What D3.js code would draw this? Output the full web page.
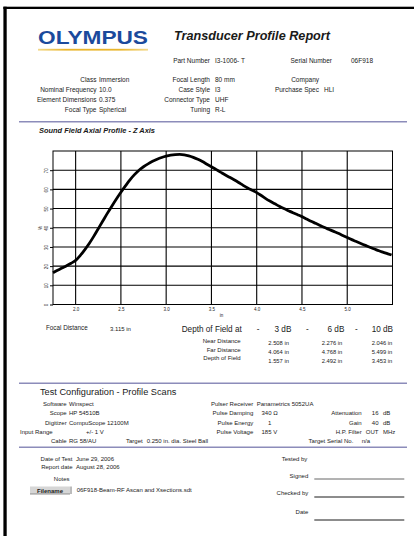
<!DOCTYPE html>
<html>
<head>
<meta charset="utf-8">
<script src="https://cdn.jsdelivr.net/npm/d3@7"></script>
<style>
  html, body { margin: 0; padding: 0; background: #fff; }
  svg { display: block; }
  text { font-family: "Liberation Sans", Arial, sans-serif; fill: #1a1a1a; }
</style>
</head>
<body>
<script>
// ---- Sound field axial profile (Z axis) ----
const profileDepth = [1.75, 1.80, 1.85, 1.90, 1.95, 2.00, 2.05, 2.10, 2.15, 2.20, 2.25, 2.30, 2.35, 2.40, 2.45,
  2.50, 2.55, 2.60, 2.65, 2.70, 2.75, 2.80, 2.85, 2.90, 2.95, 3.00, 3.05, 3.10, 3.15, 3.20, 3.25, 3.30, 3.35,
  3.40, 3.45, 3.50, 3.55, 3.60, 3.65, 3.70, 3.75, 3.80, 3.85, 3.90, 3.95, 4.00, 4.05, 4.10, 4.15, 4.20, 4.25,
  4.30, 4.35, 4.40, 4.45, 4.50, 4.55, 4.60, 4.65, 4.70, 4.75, 4.80, 4.85, 4.90, 4.95, 5.00, 5.05, 5.10, 5.15,
  5.20, 5.25, 5.30, 5.35, 5.40, 5.45, 5.49];
const profileAmplitude = [16.5, 17.8, 19.0, 20.2, 21.5, 23.0, 25.5, 28.5, 31.8, 35.5, 39.5, 43.5, 47.5, 51.3, 55.0,
  58.5, 61.8, 65.0, 67.7, 70.0, 71.8, 73.3, 74.6, 75.7, 76.6, 77.3, 77.8, 78.1, 78.2, 78.0, 77.5, 76.7, 75.7,
  74.5, 73.1, 71.8, 70.4, 69.0, 67.6, 66.3, 65.0, 63.6, 62.1, 60.7, 59.5, 58.3, 56.8, 55.2, 53.8, 52.5, 51.2,
  50.0, 48.9, 47.8, 46.8, 45.8, 44.6, 43.4, 42.3, 41.2, 40.1, 39.1, 38.1, 37.1, 36.0, 34.9, 33.8, 32.8, 31.8,
  30.8, 29.8, 28.9, 28.0, 27.2, 26.4, 25.8];
const xTicks = [2.0, 2.5, 3.0, 3.5, 4.0, 4.5, 5.0];
const yTicks = [0, 10, 20, 30, 40, 50, 60, 70];

// ---- Report header fields ----
const headerLeft = [["Class", "Immersion"], ["Nominal Frequency", "10.0"], ["Element Dimensions", "0.375"], ["Focal Type", "Spherical"]];
const headerMid = [["Focal Length", "80 mm"], ["Case Style", "I3"], ["Connector Type", "UHF"], ["Tuning", "R-L"]];
const headerRight = [["Company", ""], ["Purchase Spec", "HLI"]];

// ---- Depth of field results ----
const dbLevels = ["3", "6", "10"];
const dofRows = ["Near Distance", "Far Distance", "Depth of Field"];
const dofValues = [
  ["2.508 in", "2.276 in", "2.046 in"],
  ["4.064 in", "4.768 in", "5.499 in"],
  ["1.557 in", "2.492 in", "3.453 in"]
];

// ---- Test configuration ----
const configLeft = [["Software", "Winspect"], ["Scope", "HP 54510B"], ["Digitizer", "CompuScope 12100M"], ["", ""], ["Cable", "RG  58/AU"]];
const configMid = [["Pulser Receiver", "Panametrics 5052UA"], ["Pulse Damping", "340 Ω"], ["Pulse Energy", "1"], ["Pulse Voltage", "185  V"]];
const configRight = [["Attenuation", "16", "dB"], ["Gain", "40", "dB"], ["H.P. Filter", "OUT", "MHz"]];

const W = 414, H = 536;
const svg = d3.select("body").append("svg").attr("width", W).attr("height", H);

// page frame edges
svg.append("rect").attr("x", 3.4).attr("y", 6.7).attr("width", 3.3).attr("height", H).attr("fill", "#000");
svg.append("rect").attr("x", 3.4).attr("y", 6.7).attr("width", W).attr("height", 2.3).attr("fill", "#000");

function txt(x, y, s, size, anchor, extra) {
  const t = svg.append("text").attr("x", x).attr("y", y).attr("font-size", size)
    .attr("text-anchor", anchor || "start").text(s);
  if (extra) extra(t);
  return t;
}

// logo
const gold = svg.append("defs").append("linearGradient").attr("id", "gold");
gold.append("stop").attr("offset", "0%").attr("stop-color", "#f3d98a");
gold.append("stop").attr("offset", "25%").attr("stop-color", "#e9b52c");
gold.append("stop").attr("offset", "75%").attr("stop-color", "#e9b52c");
gold.append("stop").attr("offset", "100%").attr("stop-color", "#f3d98a");
txt(38, 44.3, "OLYMPUS", 17.5, "start", t => t.attr("font-weight", 900).style("fill", "#1b4a9c")
  .attr("textLength", 110).attr("lengthAdjust", "spacingAndGlyphs"));
svg.append("rect").attr("x", 38).attr("y", 48.8).attr("width", 110).attr("height", 1.8).attr("fill", "url(#gold)");

// title
txt(174, 39.5, "Transducer Profile Report", 13.5, "start", t => t.attr("font-weight", "bold")
  .attr("font-style", "italic").attr("textLength", 156).attr("lengthAdjust", "spacingAndGlyphs"));

// header rows
const fs = 6.5;
txt(210, 63.3, "Part Number", fs, "end");
txt(215, 63.3, "I3-1006- T", fs);
txt(332, 63.3, "Serial Number", fs, "end");
txt(351, 63.3, "06F918", fs);
const rowY = [82.3, 92.3, 101.8, 111.7];
headerLeft.forEach((d, i) => { txt(96.5, rowY[i], d[0], fs, "end"); txt(99, rowY[i], d[1], fs); });
headerMid.forEach((d, i) => { txt(210, rowY[i], d[0], fs, "end"); txt(215, rowY[i], d[1], fs); });
headerRight.forEach((d, i) => { txt(319, rowY[i], d[0], fs, "end"); txt(324, rowY[i], d[1], fs); });

// section rules
[121.7, 383.3, 447.3].forEach(y => svg.append("line").attr("x1", 19).attr("x2", 407)
  .attr("y1", y).attr("y2", y).attr("stroke", "#8c8cba").attr("stroke-width", 1.6));

txt(39, 133.3, "Sound Field Axial Profile - Z Axis", 7, "start", t => t.attr("font-weight", "bold")
  .attr("font-style", "italic").attr("textLength", 116).attr("lengthAdjust", "spacingAndGlyphs"));

// ---- chart ----
const x = d3.scaleLinear().domain([1.75, 5.5]).range([53, 392.5]);
const y = d3.scaleLinear().domain([0, 80]).range([304.5, 151]);

const g = svg.append("g");
g.selectAll(".vg").data(xTicks).join("line")
  .attr("x1", d => x(d)).attr("x2", d => x(d)).attr("y1", y(80)).attr("y2", y(0))
  .attr("stroke", "#000").attr("stroke-width", 1.1);
g.selectAll(".hg").data(yTicks.filter(v => v > 0)).join("line")
  .attr("x1", x(1.75)).attr("x2", x(5.5)).attr("y1", d => y(d)).attr("y2", d => y(d))
  .attr("stroke", "#000").attr("stroke-width", 1.1);

const yAxis = svg.append("g").attr("transform", `translate(${x(1.75)},0)`)
  .call(d3.axisLeft(y).tickValues(yTicks).tickSize(3).tickFormat(d3.format("d")));
yAxis.select(".domain").remove();
yAxis.selectAll("line").attr("stroke", "#000");
// tick labels stand on end, just left of the tick marks
yAxis.selectAll(".tick text").attr("font-size", 4.5).attr("font-family", null)
  .attr("x", 0).attr("dy", 0).attr("text-anchor", "middle")
  .attr("transform", "translate(-5.2,0) rotate(-90)");

const xAxis = svg.append("g").attr("transform", `translate(0,${y(0)})`)
  .call(d3.axisBottom(x).tickValues(xTicks).tickSize(0).tickPadding(3.5).tickFormat(d3.format(".1f")));
xAxis.select(".domain").remove();
xAxis.selectAll("text").attr("font-size", 4.5).attr("font-family", null);

txt(221.5, 317, "in", 4.5, "middle");
txt(41.5, 228, "%", 4.5, "middle", t => t.attr("transform", "rotate(-90,41.5,228)"));

// frame
svg.append("rect").attr("x", x(1.75)).attr("y", y(80)).attr("width", x(5.5) - x(1.75))
  .attr("height", y(0) - y(80)).attr("fill", "none").attr("stroke", "#000").attr("stroke-width", 1);

// profile curve
const pts = profileDepth.map((d, i) => [d, profileAmplitude[i]]);
svg.append("path").datum(pts)
  .attr("d", d3.line().x(d => x(d[0])).y(d => y(d[1])).curve(d3.curveMonotoneX))
  .attr("fill", "none").attr("stroke", "#000").attr("stroke-width", 2.8).attr("stroke-linejoin", "round");

// ---- depth of field table ----
txt(46, 330.3, "Focal Distance", 6.3);
txt(110, 331, "3.115 in", 6);
txt(181.7, 331.8, "Depth of Field at", 8.2);
const dashX = [256.7, 306, 355], dbX = [270, 323, 371.7];
dbLevels.forEach((v, i) => {
  txt(dashX[i], 331.8, "-", 8.2);
  txt(dbX[i] + (v.length > 1 ? 0 : 4.5), 331.8, v + "  dB", 8.2);
});
const dofLabelY = [343.3, 351.8, 360.4], dofValY = [345.4, 354.0, 362.8];
const colX = [268.3, 321.7, 371.7];
dofRows.forEach((r, i) => {
  txt(240.7, dofLabelY[i], r, 6, "end");
  dofValues[i].forEach((v, j) => txt(colX[j], dofValY[i], v, 5.8));
});

// ---- test configuration ----
txt(40, 394.5, "Test Configuration - Profile Scans", 9.2);
const cfgY = [406, 415.3, 424.6, 433.9, 443.2];
configLeft.forEach((d, i) => {
  if (d[0]) { txt(66.7, cfgY[i], d[0], 6, "end"); txt(69, cfgY[i], d[1], 6); }
});
txt(20, cfgY[3], "Input Range", 6);
txt(86, cfgY[3], "+/-  1   V", 6);
txt(142.7, cfgY[4], "Target", 6, "end");
txt(146.7, cfgY[4], "0.250 in. dia. Steel Ball", 6);
configMid.forEach((d, i) => {
  txt(253.3, cfgY[i], d[0], 6, "end");
  txt(i === 0 ? 256.7 : (i === 2 ? 268 : 261.5), cfgY[i], d[1], 6);
});
configRight.forEach((d, i) => {
  txt(361.7, cfgY[i + 1], d[0], 6, "end");
  txt(378.5, cfgY[i + 1], d[1], 6, "end");
  txt(383, cfgY[i + 1], d[2], 6);
});
txt(353.3, cfgY[4], "Target Serial No.", 6, "end");
txt(361.7, cfgY[4], "n/a", 6);

// ---- sign-off block ----
txt(72.5, 460.5, "Date of Test", 6, "end");
txt(76, 460.5, "June 29, 2006", 6);
txt(72.5, 469.2, "Report date", 6, "end");
txt(76, 469.2, "August 28, 2006", 6);
txt(69.5, 481, "Notes", 6, "end");
svg.append("rect").attr("x", 30).attr("y", 486.5).attr("width", 40).attr("height", 7.5).attr("fill", "#d6d6d6");
svg.append("line").attr("x1", 30).attr("x2", 70).attr("y1", 494).attr("y2", 494).attr("stroke", "#777").attr("stroke-width", 0.8);
svg.append("line").attr("x1", 71).attr("x2", 71).attr("y1", 486.5).attr("y2", 494).attr("stroke", "#555").attr("stroke-width", 0.8);
txt(50, 492.5, "Filename", 6, "middle", t => t.attr("font-weight", "bold"));
txt(76.7, 492.3, "06F918-Beam-RF Ascan and Xsections.sdt", 6);

txt(281.7, 460.5, "Tested by", 6);
const signY = [478.3, 494.7, 514.3], signLineY = [479, 497, 520];
["Signed", "Checked by", "Date"].forEach((s, i) => {
  txt(308.3, signY[i], s, 6, "end");
  svg.append("line").attr("x1", 314.3).attr("x2", 404.3).attr("y1", signLineY[i]).attr("y2", signLineY[i])
    .attr("stroke", i === 0 ? "#555" : "#000").attr("stroke-width", 0.9);
});
</script>
</body>
</html>
